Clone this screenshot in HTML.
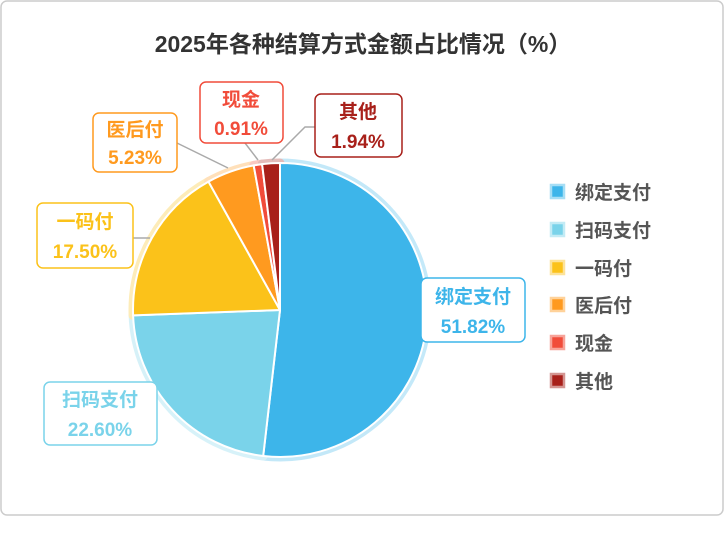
<!DOCTYPE html>
<html><head><meta charset="utf-8"><style>
body{margin:0;background:#fff;}
svg text{font-family:"Liberation Sans","Noto Sans CJK SC",sans-serif;}
</style></head><body>
<svg width="726" height="528" viewBox="0 0 726 528" xmlns="http://www.w3.org/2000/svg">
<rect x="1" y="1" width="722" height="514" rx="6" fill="#fff" stroke="#ccc" stroke-width="1.5"/>
<text x="363" y="52" text-anchor="middle" font-size="23" font-weight="bold" fill="#333">2025年各种结算方式金额占比情况（%）</text>
<g stroke-linejoin="round">
<g fill="none" stroke-width="9" opacity="0.3">
<path d="M280,310 L280,163 A147,147 0 1,1 263.2,456 Z" stroke="#3db5ea"/>
<path d="M280,310 L263.2,456 A147,147 0 0,1 133.1,315.4 Z" stroke="#7ad3ea"/>
<path d="M280,310 L133.1,315.4 A147,147 0 0,1 208.5,181.6 Z" stroke="#fbc21a"/>
<path d="M280,310 L208.5,181.6 A147,147 0 0,1 253.7,165.4 Z" stroke="#ff9a1f"/>
<path d="M280,310 L253.7,165.4 A147,147 0 0,1 262.1,164.1 Z" stroke="#f14c3a"/>
<path d="M280,310 L262.1,164.1 A147,147 0 0,1 280,163 Z" stroke="#a8201a"/>
</g>
<g stroke="#fff" stroke-width="2">
<path d="M280,310 L280,163 A147,147 0 1,1 263.2,456 Z" fill="#3db5ea"/>
<path d="M280,310 L263.2,456 A147,147 0 0,1 133.1,315.4 Z" fill="#7ad3ea"/>
<path d="M280,310 L133.1,315.4 A147,147 0 0,1 208.5,181.6 Z" fill="#fbc21a"/>
<path d="M280,310 L208.5,181.6 A147,147 0 0,1 253.7,165.4 Z" fill="#ff9a1f"/>
<path d="M280,310 L253.7,165.4 A147,147 0 0,1 262.1,164.1 Z" fill="#f14c3a"/>
<path d="M280,310 L262.1,164.1 A147,147 0 0,1 280,163 Z" fill="#a8201a"/>
</g>
</g>
<g stroke="#aaa" stroke-width="1.5" fill="none">
<polyline points="258,160 245,143"/>
<polyline points="272,160 305,127 316,127"/>
<polyline points="228,168 177,143"/>
<polyline points="150,238 133,238"/>
</g>
<g font-size="19" text-anchor="middle" font-weight="bold">
<rect x="421" y="278" width="104" height="64" rx="6" fill="#fff" stroke="#3db5ea" stroke-width="1.5"/>
<text x="473" y="303" fill="#3db5ea">绑定支付</text><text x="473" y="333" fill="#3db5ea">51.82%</text>
<rect x="44" y="382" width="113" height="63" rx="6" fill="#fff" stroke="#7ad3ea" stroke-width="1.5"/>
<text x="100" y="406" fill="#7ad3ea">扫码支付</text><text x="100" y="436" fill="#7ad3ea">22.60%</text>
<rect x="37" y="203" width="96" height="65" rx="6" fill="#fff" stroke="#fbc21a" stroke-width="1.5"/>
<text x="85" y="228" fill="#fbc21a">一码付</text><text x="85" y="258" fill="#fbc21a">17.50%</text>
<rect x="93" y="113" width="84" height="59" rx="6" fill="#fff" stroke="#ff9a1f" stroke-width="1.5"/>
<text x="135" y="136" fill="#ff9a1f">医后付</text><text x="135" y="164" fill="#ff9a1f">5.23%</text>
<rect x="200" y="82" width="83" height="61" rx="6" fill="#fff" stroke="#f14c3a" stroke-width="1.5"/>
<text x="241" y="106" fill="#f14c3a">现金</text><text x="241" y="135" fill="#f14c3a">0.91%</text>
<rect x="315" y="94" width="87" height="63" rx="6" fill="#fff" stroke="#a8201a" stroke-width="1.5"/>
<text x="358" y="118" fill="#a8201a">其他</text><text x="358" y="148" fill="#a8201a">1.94%</text>
</g>
<g font-size="19" fill="#555" font-weight="bold">
<g transform="translate(550,184)"><rect x="1" y="1" width="13" height="13" fill="#3db5ea" stroke="#a6def5" stroke-width="2.5"/><text x="25" y="15">绑定支付</text></g>
<g transform="translate(550,222)"><rect x="1" y="1" width="13" height="13" fill="#7ad3ea" stroke="#c3ebf5" stroke-width="2.5"/><text x="25" y="15">扫码支付</text></g>
<g transform="translate(550,260)"><rect x="1" y="1" width="13" height="13" fill="#fbc21a" stroke="#fde39a" stroke-width="2.5"/><text x="25" y="15">一码付</text></g>
<g transform="translate(550,297)"><rect x="1" y="1" width="13" height="13" fill="#ff9a1f" stroke="#ffd29a" stroke-width="2.5"/><text x="25" y="15">医后付</text></g>
<g transform="translate(550,335)"><rect x="1" y="1" width="13" height="13" fill="#f14c3a" stroke="#f7a399" stroke-width="2.5"/><text x="25" y="15">现金</text></g>
<g transform="translate(550,373)"><rect x="1" y="1" width="13" height="13" fill="#a8201a" stroke="#d49591" stroke-width="2.5"/><text x="25" y="15">其他</text></g>
</g>
</svg>
</body></html>
